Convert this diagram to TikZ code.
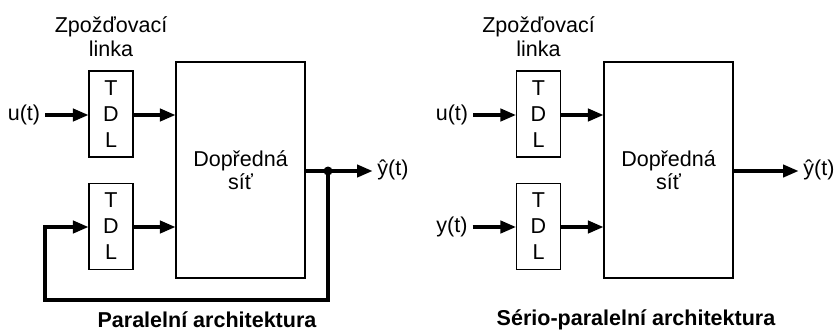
\documentclass[tikz,border=0pt]{standalone}
\usepackage{fontspec}
\setmainfont{Liberation Sans}
\usetikzlibrary{arrows.meta}

\begin{document}
\begin{tikzpicture}[x=0.025cm,y=-0.025cm,>={Triangle[length=11pt,width=8.8pt]},line join=miter,
  font=\fontsize{15.3}{17}\selectfont,
  tdlbox/.style={draw,line width=0.8pt,minimum width=1.1cm,minimum height=2.15cm,align=center,inner sep=0pt,font=\fontsize{15.3}{18.5}\selectfont},
  netbox/.style={draw,line width=0.8pt,minimum width=3.225cm,minimum height=5.4cm,align=center,inner sep=0pt,font=\fontsize{15.3}{16.4}\selectfont},
  sig/.style={->,line width=2.2pt}]
\useasboundingbox (0,0) rectangle (840,331);
% paralelni architektura
\node[align=center] (delayA) at (111,37) {Zpožďovací\\linka};
\node[tdlbox] (tdlA1) at (111,114) {T\\D\\L};
\node[tdlbox] (tdlA2) at (111,226.5) {T\\D\\L};
\node[netbox] (netA) at (240.5,170) {Dopředná\\síť};
\node (uA) at (24,115) {u(t)};
\node (yhatA) at (393,170) {ŷ(t)};
\coordinate (dotA) at (328,171);
\coordinate (fbA1) at (328,300);
\coordinate (fbA2) at (45,300);
\coordinate (fbA3) at (45,227);
\draw[sig] (uA) -- (tdlA1.west |- uA);
\draw[sig] (tdlA1.east |- uA) -- (netA.west |- uA);
\draw[sig] (tdlA2.east |- fbA3) -- (netA.west |- fbA3);
\draw[sig] (netA.east |- dotA) -- (yhatA.west |- dotA);
\draw[sig] (dotA) -- (fbA1) -- (fbA2) -- (fbA3) -- (tdlA2.west |- fbA3);
\fill (dotA) circle (3.2pt);
\node[font=\bfseries\fontsize{15.3}{17}\selectfont] (titleA) at (207,320) {Paralelní architektura};
% serio-paralelni architektura
\node[align=center] (delayB) at (538.5,37) {Zpožďovací\\linka};
\node[tdlbox] (tdlB1) at (538.5,114) {T\\D\\L};
\node[tdlbox] (tdlB2) at (538.5,226.5) {T\\D\\L};
\node[netbox] (netB) at (668.5,170) {Dopředná\\síť};
\node (uB) at (452,115) {u(t)};
\node (yB) at (452,227) {y(t)};
\node (yhatB) at (819,170) {ŷ(t)};
\coordinate (outB) at (733,171);
\draw[sig] (uB) -- (tdlB1.west |- uB);
\draw[sig] (tdlB1.east |- uB) -- (netB.west |- uB);
\draw[sig] (yB) -- (tdlB2.west |- yB);
\draw[sig] (tdlB2.east |- yB) -- (netB.west |- yB);
\draw[sig] (outB) -- (yhatB.west |- outB);
\node[font=\bfseries\fontsize{15.3}{17}\selectfont] (titleB) at (636,320) {Sério-paralelní architektura};
\end{tikzpicture}
\end{document}
